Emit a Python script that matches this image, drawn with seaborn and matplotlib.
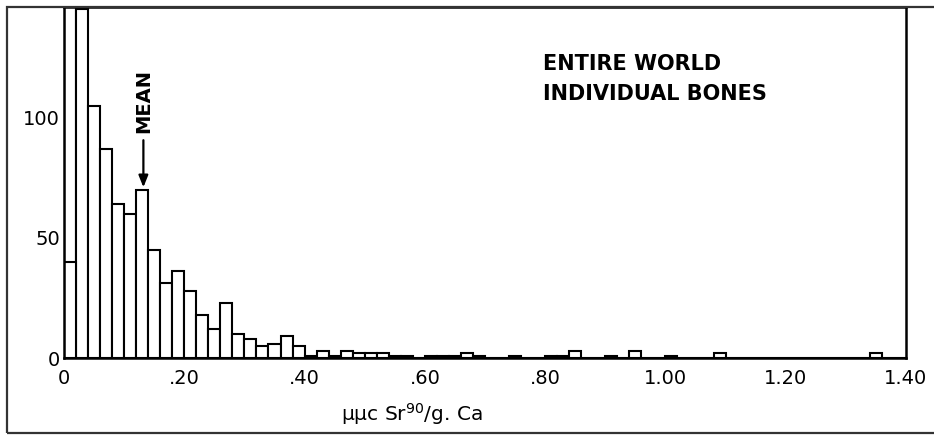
import numpy as np
import pandas as pd
import seaborn as sns
import matplotlib.pyplot as plt
from matplotlib.patches import Rectangle

# ---- data ----
bin_width = 0.02
n_bins = 70  # 0.00 .. 1.40
# number of bones per 0.02 bin of Sr90 (first bin is off-scale)
bone_counts = [
    300, 145, 105, 87, 64, 60, 70, 45, 31, 36,   # 0.00-0.20
    28, 18, 12, 23, 10, 8, 5, 6, 9, 5,           # 0.20-0.40
    1, 3, 1, 3, 2, 2, 2, 1, 1, 0,                # 0.40-0.60
    1, 1, 1, 2, 1, 0, 0, 1, 0, 0,                # 0.60-0.80
    1, 1, 3, 0, 0, 1, 0, 3, 0, 0,                # 0.80-1.00
    1, 0, 0, 0, 2, 0, 0, 0, 0, 0,                # 1.00-1.20
    0, 0, 0, 0, 0, 0, 0, 2, 0, 0,                # 1.20-1.40
]
# inner division drawn inside the first (off-scale) bin
first_bin_inner = [40]
mean_value = 0.132
mean_bar_height = 71

x_ticks = [0, 0.2, 0.4, 0.6, 0.8, 1.0, 1.2, 1.4]
x_tick_labels = ["0", ".20", ".40", ".60", ".80", "1.00", "1.20", "1.40"]
y_ticks = [0, 50, 100]
y_tick_labels = ["0", "50", "100"]

bin_centers = [round(bin_width * i + bin_width / 2, 3) for i in range(n_bins)]
df = pd.DataFrame({"sr90": bin_centers, "bones": bone_counts})
df_inner = pd.DataFrame({"sr90": [bin_width / 2], "bones": first_bin_inner})

# ---- figure ----
sns.set_theme(style="white")
plt.rcParams["font.family"] = ["DejaVu Sans"]
plt.rcParams["text.color"] = "black"
plt.rcParams["axes.labelcolor"] = "black"
plt.rcParams["xtick.color"] = "black"
plt.rcParams["ytick.color"] = "black"

W, H = 934, 436
fig = plt.figure(figsize=(W / 100, H / 100), dpi=100)
ax = fig.add_axes([64 / W, (H - 358) / H, (906 - 64) / W, (358 - 7) / H])

sns.histplot(data=df, x="sr90", weights="bones", binwidth=bin_width,
             binrange=(0, 1.4), color="white", edgecolor="black",
             linewidth=1.5, alpha=1, ax=ax)
sns.histplot(data=df_inner, x="sr90", weights="bones", binwidth=bin_width,
             binrange=(0, bin_width), color="white", edgecolor="black",
             linewidth=1.5, alpha=1, ax=ax)

ax.set_xlim(0, 1.4)
ax.set_ylim(0, 146)
ax.set_xticks(x_ticks)
ax.set_xticklabels(x_tick_labels)
ax.set_yticks(y_ticks)
ax.set_yticklabels(y_tick_labels)
ax.tick_params(axis="x", direction="inout", length=8, width=1.5,
               color="black", labelcolor="black", labelsize=14, pad=4)
ax.tick_params(axis="y", direction="in", length=7.5, width=1.5,
               color="black", labelcolor="black", labelsize=14, pad=3)
for sp in ax.spines.values():
    sp.set_visible(True)
    sp.set_color("black")
    sp.set_linewidth(1.8)
ax.grid(False)
ax.set_ylabel("")

ax.set_xlabel("μμc Sr$^{90}$/g. Ca", fontsize=14.5, color="black")
ax.xaxis.set_label_coords((412 - 64) / 842, -0.16)
ax.xaxis.label.set_va("center")

ax.annotate("MEAN", xy=(mean_value, mean_bar_height), xytext=(mean_value, 107),
            textcoords="data", rotation=90, ha="center", va="center",
            fontsize=14, fontweight="bold", color="black",
            arrowprops=dict(arrowstyle="-|>,head_length=0.5,head_width=0.2",
                            color="black", lw=1.6, shrinkA=3, shrinkB=0,
                            mutation_scale=14))

ax.text((543 - 64) / 842, (358 - 79) / 351, "ENTIRE WORLD\nINDIVIDUAL BONES",
        transform=ax.transAxes, ha="left", va="center", fontsize=15,
        fontweight="bold", linespacing=1.6, color="black")

# outer frame of the original figure
fig.patches.append(Rectangle((7 / W, 3 / H), 1.0, (433 - 7) / H,
                             transform=fig.transFigure, fill=False,
                             edgecolor="#333333", linewidth=1.6,
                             clip_on=False))

fig.savefig("out.png", dpi=100)
